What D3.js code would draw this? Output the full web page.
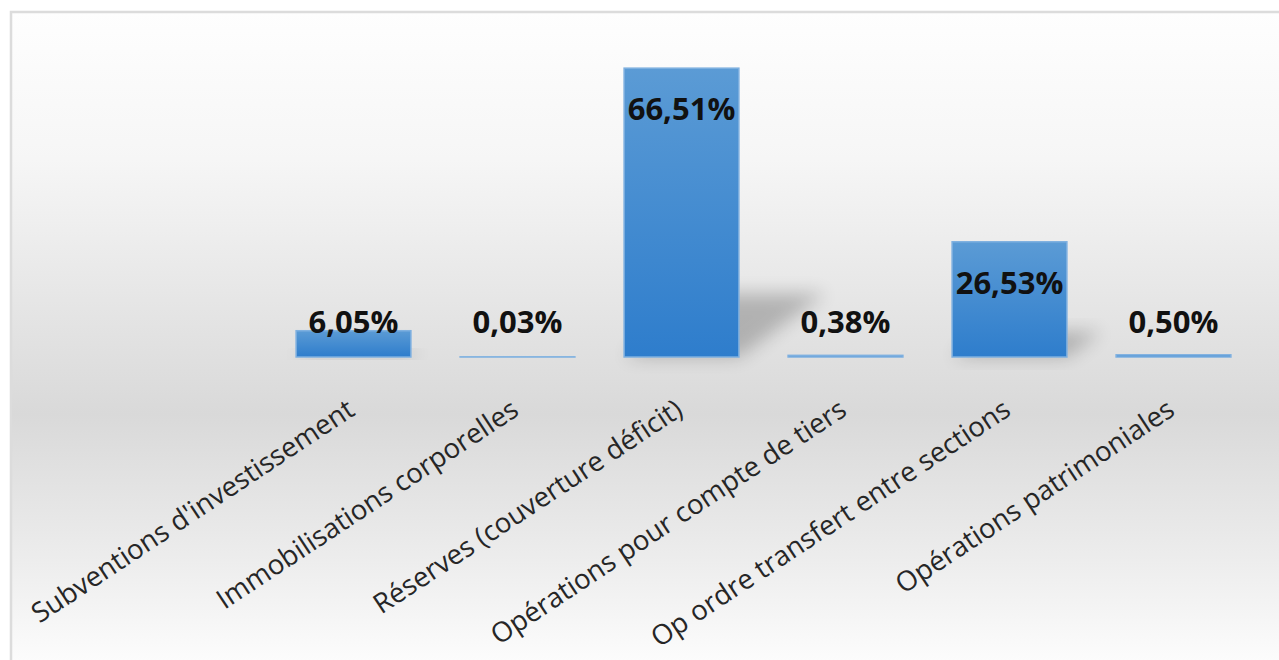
<!DOCTYPE html>
<html>
  <head>
    <meta charset="utf-8">
    <title>Répartition des recettes d'investissement</title>
    <script src="https://d3js.org/d3.v7.min.js"></script>
    <style>
      body { margin: 0; background: #ffffff; }
      svg { display: block; }
      .value { font-family: "Open Sans", sans-serif; font-weight: 700; fill: #111111; }
      .cat { font-family: "Open Sans", sans-serif; fill: #262626; }
    </style>
  </head>
  <body>
    <div id="chart"></div>
    <script>
      // data
      const categories = [
        "Subventions d'investissement",
        "Immobilisations corporelles",
        "Réserves (couverture déficit)",
        "Opérations pour compte de tiers",
        "Op ordre transfert entre sections",
        "Opérations patrimoniales"
      ];
      const values = [6.05, 0.03, 66.51, 0.38, 26.53, 0.50];
      const valueLabels = ["6,05%", "0,03%", "66,51%", "0,38%", "26,53%", "0,50%"];

      const width = 1279, height = 660;
      const svg = d3.select("#chart")
        .append("svg")
          .attr("width", width)
          .attr("height", height);
      const defs = svg.append("defs");

      // background gradient (white - grey - white)
      const bg = defs.append("linearGradient")
        .attr("id", "bg")
        .attr("x1", "0%").attr("x2", "0%")
        .attr("y1", "0%").attr("y2", "100%");
      [["0%", "#fefefe"], ["22%", "#f6f6f6"], ["60%", "#d9d9d9"], ["82%", "#ededed"], ["100%", "#ffffff"]]
        .forEach(function(s) { bg.append("stop").attr("offset", s[0]).attr("stop-color", s[1]); });

      // bar gradient
      const barGrad = defs.append("linearGradient")
        .attr("id", "barGrad")
        .attr("x1", "0%").attr("x2", "0%")
        .attr("y1", "0%").attr("y2", "100%");
      barGrad.append("stop").attr("offset", "0%").attr("stop-color", "#5b9bd5");
      barGrad.append("stop").attr("offset", "100%").attr("stop-color", "#2e7dcc");

      defs.append("filter")
        .attr("id", "blur")
        .attr("x", "-50%").attr("y", "-50%")
        .attr("width", "200%").attr("height", "200%")
        .append("feGaussianBlur")
          .attr("stdDeviation", 9);

      // frame
      svg.append("rect")
        .attr("x", 11).attr("y", 12)
        .attr("width", width + 10).attr("height", height + 10)
        .attr("fill", "url(#bg)")
        .attr("stroke", "#dcdcdc")
        .attr("stroke-width", 2.5);

      // scales
      const x = d3.scaleBand()
        .domain(categories)
        .range([271.5, 1255.5])
        .paddingInner(0.3)
        .paddingOuter(0.15);
      const y = d3.scaleLinear()
        .domain([0, 70])
        .range([357, 53]);

      const data = categories.map(function(c, i) {
        return { cat: c, value: values[i], label: valueLabels[i] };
      });

      // soft shadows behind bars
      svg.append("g")
        .selectAll("polygon")
          .data(data)
        .enter().append("polygon")
          .attr("points", function(d) {
            const x0 = x(d.cat), x1 = x0 + x.bandwidth();
            const h = y(0) - y(d.value);
            const dx = h * 0.3, dy = h * 0.22;
            return [[x0, y(0)], [x1, y(0)], [x1 + dx, y(0) - dy], [x0 + dx, y(0) - dy]].join(" ");
          })
          .attr("fill", "#000")
          .attr("opacity", 0.22)
          .attr("filter", "url(#blur)");

      // bars
      svg.append("g")
        .selectAll("rect")
          .data(data)
        .enter().append("rect")
          .attr("x", function(d) { return x(d.cat); })
          .attr("y", function(d) { return y(d.value); })
          .attr("width", x.bandwidth())
          .attr("height", function(d) { return y(0) - y(d.value); })
          .attr("fill", "url(#barGrad)")
          .attr("stroke", "#7eb0e0")
          .attr("stroke-width", 1.5);

      // value labels
      svg.append("g")
        .selectAll("text")
          .data(data)
        .enter().append("text")
          .attr("class", "value")
          .attr("x", function(d) { return x(d.cat) + x.bandwidth() / 2; })
          .attr("y", function(d) { return Math.min(y(d.value) + 52, y(0) - 24); })
          .attr("text-anchor", "middle")
          .attr("font-size", 31)
          .text(function(d) { return d.label; });

      // category labels
      const xAxis = svg.append("g");
      xAxis.selectAll("text")
          .data(categories)
        .enter().append("text")
          .attr("class", "cat")
          .attr("transform", function(d) {
            return "translate(" + (x(d) + x.bandwidth() / 2 + 3) + ", 414) rotate(-33.5)";
          })
          .attr("text-anchor", "end")
          .attr("font-size", 27.5)
          .text(function(d) { return d; });
    </script>
  </body>
</html>
